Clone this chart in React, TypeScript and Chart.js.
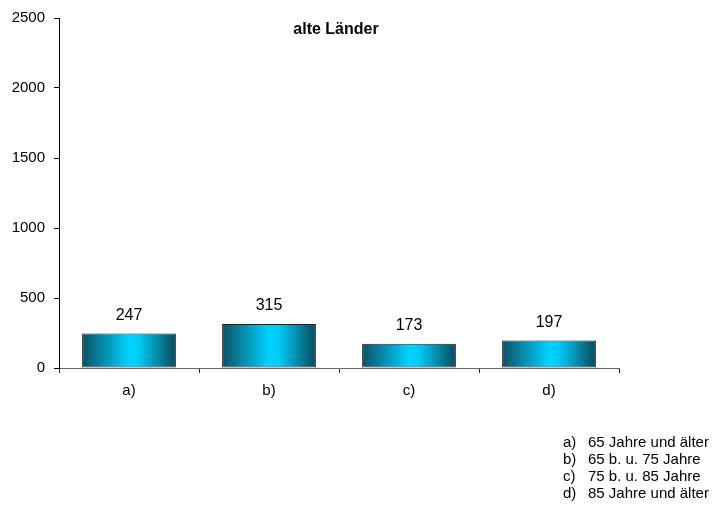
import React, { useEffect, useRef } from "react";
import { Chart, registerables } from "chart.js";

Chart.register(...registerables);

const categories = ["a)", "b)", "c)", "d)"];
const values = [247, 315, 173, 197];
const legendLabels = ["65 Jahre und älter", "65 b. u. 75 Jahre", "75 b. u. 85 Jahre", "85 Jahre und älter"];
const yTicks = [0, 500, 1000, 1500, 2000, 2500];
const title = "alte Länder";

const FONT = "'Liberation Sans', Arial, sans-serif";

export default function App() {
  const ref = useRef<HTMLCanvasElement | null>(null);
  useEffect(() => {
    if (!ref.current) return;
    const overlay = {
      id: "overlay",
      afterDraw(chart: any) {
        const ctx = chart.ctx;
        const area = chart.chartArea;
        const meta = chart.getDatasetMeta(0);
        ctx.save();
        ctx.fillStyle = "#000";
        ctx.textAlign = "center";
        ctx.textBaseline = "middle";
        ctx.font = `16px ${FONT}`;
        meta.data.forEach((bar: any, i: number) => {
          ctx.fillText(String(values[i]), bar.x, bar.y - 18);
        });
        ctx.font = `bold 16px ${FONT}`;
        ctx.fillText(title, (area.left + area.right) / 2 - 3, 30);
        ctx.font = `15px ${FONT}`;
        ctx.textAlign = "left";
        legendLabels.forEach((t, i) => {
          const y = 443 + i * 16.8;
          ctx.fillText(categories[i], 563, y);
          ctx.fillText(t, 588, y);
        });
        ctx.restore();
      },
    };
    const chart = new Chart(ref.current, {
      type: "bar",
      data: {
        labels: categories,
        datasets: [
          {
            data: values,
            backgroundColor: (c: any) => {
              const ch = c.chart;
              if (!ch.chartArea || c.dataIndex === undefined) return "#00c8f0";
              const xs = ch.scales.x;
              const cx = xs.getPixelForValue(c.dataIndex);
              const w = (xs.width / categories.length) * 0.67;
              const g = ch.ctx.createLinearGradient(cx - w / 2, 0, cx + w / 2, 0);
              g.addColorStop(0, "#0e5064");
              g.addColorStop(0.5, "#00d2ff");
              g.addColorStop(0.6, "#00ccf8");
              g.addColorStop(1, "#0a4a5c");
              return g;
            },
            borderColor: "#222",
            borderWidth: 1,
            borderSkipped: false,
            categoryPercentage: 1,
            barPercentage: 0.67,
          },
        ],
      },
      plugins: [overlay],
      options: {
        responsive: false,
        animation: false,
        layout: { padding: { left: 0, top: 16, right: 96, bottom: 98 } },
        plugins: { legend: { display: false }, tooltip: { enabled: false }, title: { display: false } },
        scales: {
          x: {
            grid: { display: true, drawOnChartArea: false, offset: true, tickLength: 5, color: "#222" },
            border: { color: "#666" },
            ticks: { color: "#000", font: { family: FONT, size: 15 }, padding: 9 },
            afterFit: (s: any) => {
              s.height = 40;
            },
          },
          y: {
            min: 0,
            max: 2500,
            afterBuildTicks: (s: any) => {
              s.ticks = yTicks.map((v) => ({ value: v }));
            },
            grid: { display: true, drawOnChartArea: false, tickLength: 5, color: "#000" },
            border: { color: "#000" },
            ticks: {
              color: "#000",
              font: { family: FONT, size: 15 },
              padding: 9,
              callback: (v: any) => String(v),
            },
            afterFit: (s: any) => {
              s.width = 59;
            },
          },
        },
      },
    } as any);
    return () => chart.destroy();
  }, []);
  return (
    <div style={{ position: "fixed", left: 0, top: 0, width: 715, height: 506, background: "#fff" }}>
      <canvas ref={ref} width={715} height={506} style={{ width: 715, height: 506 }} />
    </div>
  );
}
